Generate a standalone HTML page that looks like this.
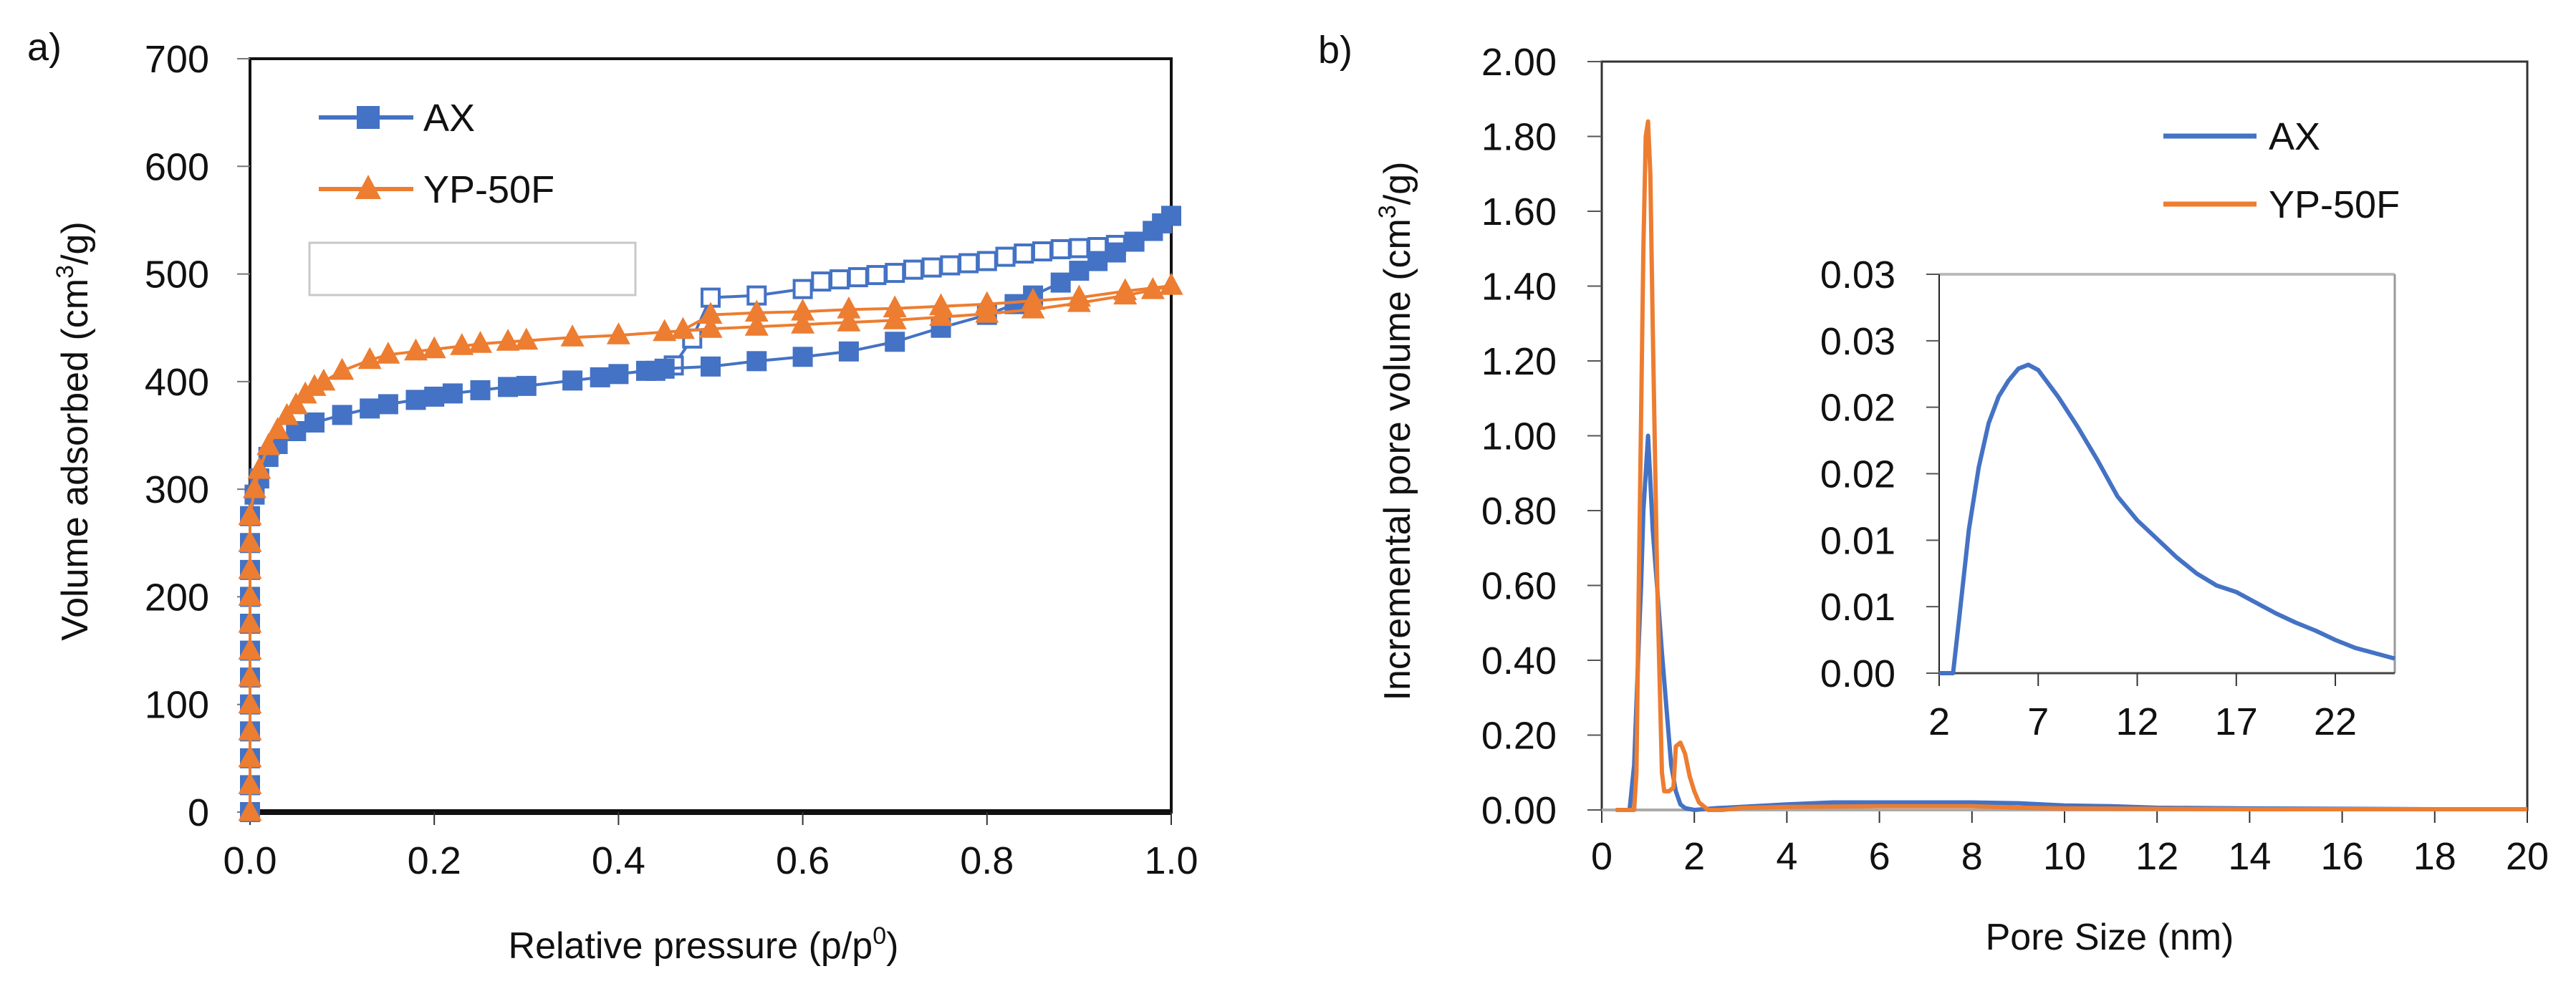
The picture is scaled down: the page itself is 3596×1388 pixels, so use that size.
<!DOCTYPE html>
<html><head><meta charset="utf-8"><style>
html,body{margin:0;padding:0;background:#fff;}
svg{display:block;font-family:"Liberation Sans",Arial,sans-serif;}
</style></head><body>
<svg id="fig" width="3596" height="1388" viewBox="0 0 3596 1388" xmlns="http://www.w3.org/2000/svg">
<rect x="0" y="0" width="3596" height="1388" fill="#fff"/>
<g id="chartA"></g>
<g id="chartB"></g>
<g id="chartC"></g>
</svg>
<script>
// ---------- Chart a data ----------
const aTicksX = [0, 0.2, 0.4, 0.6, 0.8, 1.0];
const aTickLabelsX = ["0.0", "0.2", "0.4", "0.6", "0.8", "1.0"];
const aTicksY = [0, 100, 200, 300, 400, 500, 600, 700];
const axAdsP = [0,0,0,0,0,0,0,0,0,0,0,0,0.005,0.01,0.02,0.03,0.05,0.07,0.1,0.13,0.15,0.18,0.2,0.22,0.25,0.28,0.3,0.35,0.38,0.4,0.43,0.45,0.5,0.55,0.6,0.65,0.7,0.75,0.8,0.83,0.85,0.88,0.9,0.92,0.94,0.96,0.98,0.99,1.0];
const axAdsV = [0,25,50,75,100,125,150,175,200,225,250,275,295,310,330,342,354,362,369,375,379,383,386,389,392,395,396,401,404,407,410,412,414,419,423,428,437,450,462,472,480,492,503,512,520,530,540,547,554];
const axDesP = [1.0,0.98,0.96,0.94,0.92,0.9,0.88,0.86,0.84,0.82,0.8,0.78,0.76,0.74,0.72,0.7,0.68,0.66,0.64,0.62,0.6,0.55,0.5,0.48,0.46,0.44];
const axDesV = [554,540,530,527,525,524,523,521,519,516,512,510,508,506,504,501,499,497,495,493,486,480,478,440,415,410];
const ypAdsP = [0,0,0,0,0,0,0,0,0,0,0,0,0.005,0.01,0.02,0.03,0.04,0.05,0.06,0.07,0.08,0.1,0.13,0.15,0.18,0.2,0.23,0.25,0.28,0.3,0.35,0.4,0.45,0.5,0.55,0.6,0.65,0.7,0.75,0.8,0.85,0.9,0.95,0.98,1.0];
const ypAdsV = [0,25,50,75,100,125,150,175,200,225,250,275,300,318,340,355,368,378,388,395,400,410,420,425,428,430,433,435,437,438,441,443,446,449,451,453,455,457,460,463,467,473,480,485,489];
const ypDesP = [1.0,0.95,0.9,0.85,0.8,0.75,0.7,0.65,0.6,0.55,0.5,0.47];
const ypDesV = [489,484,478,475,472,470,468,467,465,464,462,448];

// ---------- Chart b data ----------
const bTicksX = [0,2,4,6,8,10,12,14,16,18,20];
const bTicksY = [0,0.2,0.4,0.6,0.8,1.0,1.2,1.4,1.6,1.8,2.0];
const bTickLabelsY = ["0.00","0.20","0.40","0.60","0.80","1.00","1.20","1.40","1.60","1.80","2.00"];
const axPsdX = [0.4,0.6,0.7,0.8,0.85,0.9,0.95,1.0,1.05,1.1,1.2,1.3,1.4,1.5,1.6,1.7,1.8,2.0,2.5,3,4,5,6,7,8,9,10,11,12,14,16,18,20];
const axPsdY = [0,0,0.12,0.45,0.6,0.8,0.9,1.0,0.88,0.75,0.59,0.42,0.27,0.12,0.05,0.015,0.005,0,0.005,0.008,0.015,0.02,0.02,0.02,0.02,0.018,0.012,0.01,0.006,0.004,0.003,0.002,0.002];
const ypPsdX = [0.3,0.6,0.7,0.75,0.8,0.9,0.95,1.0,1.05,1.1,1.2,1.3,1.35,1.45,1.55,1.6,1.7,1.8,1.9,2.0,2.1,2.3,2.6,3,4,6,8,9,10,12,14,16,18,20];
const ypPsdY = [0,0,0,0.1,0.6,1.5,1.8,1.84,1.7,1.3,0.6,0.1,0.05,0.05,0.06,0.17,0.18,0.15,0.09,0.05,0.02,0,0,0.005,0.008,0.01,0.01,0.006,0.004,0.003,0.002,0.002,0.002,0.002];

// ---------- Inset data ----------
const cTicksX = [2,7,12,17,22];
const cTicksY = [0,0.005,0.01,0.015,0.02,0.025,0.03];
const cTickLabelsY = ["0.00","0.01","0.01","0.02","0.02","0.03","0.03"];
const insX = [2,2.5,2.7,3,3.5,4,4.5,5,5.5,6,6.5,7,8,9,10,11,12,13,14,15,16,17,18,19,20,21,22,23,24,25];
const insY = [0,0,0,0.004,0.0108,0.0155,0.0188,0.0208,0.022,0.0229,0.0232,0.0228,0.0208,0.0185,0.016,0.0133,0.0115,0.0101,0.0087,0.0075,0.0066,0.0061,0.0053,0.0045,0.0038,0.0032,0.0025,0.0019,0.0015,0.0011];

const NS = "http://www.w3.org/2000/svg";
const BLUE = "#4472C4", ORANGE = "#ED7D31";
function mk(parent, tag, attrs, text) {
  const e = document.createElementNS(NS, tag);
  for (const k in attrs) e.setAttribute(k, attrs[k]);
  if (text !== undefined) e.textContent = text;
  parent.appendChild(e);
  return e;
}
function linear(d0, d1, r0, r1) { return v => r0 + (v - d0) / (d1 - d0) * (r1 - r0); }
function pathD(xs, ys, sx, sy) { return xs.map((x, i) => (i ? "L" : "M") + sx(x).toFixed(1) + "," + sy(ys[i]).toFixed(1)).join(" "); }

// ================= Chart a =================
(function () {
  const g = document.getElementById("chartA");
  const L = 349, R = 1635, T = 82, B = 1134;
  const sx = linear(0, 1, L, R), sy = linear(0, 700, B, T);
  let t = mk(g, "text", {x: 38, y: 84, "font-size": 54, fill: "#111"}, "a)");
  
  
  let fr = mk(g, "rect", {x: L, y: T, width: R - L, height: B - T, fill: "none", stroke: "#111", "stroke-width": 4});
  
  
  mk(g, "line", {x1: L, y1: B, x2: R, y2: B, stroke: "#111", "stroke-width": 8});
  aTicksY.forEach(v => {
    const y = sy(v);
    mk(g, "line", {x1: L - 18, y1: y, x2: L, y2: y, stroke: "#777", "stroke-width": 2});
    const lb = mk(g, "text", {x: 292, y: y + 19, "font-size": 54, "text-anchor": "end", fill: "#111"}, String(v));
    
    
  });
  aTicksX.forEach((v, i) => {
    const x = sx(v);
    mk(g, "line", {x1: x, y1: B, x2: x, y2: B + 18, stroke: "#333", "stroke-width": 2});
    const lb = mk(g, "text", {x: x, y: 1220, "font-size": 54, "text-anchor": "middle", fill: "#111"}, aTickLabelsX[i]);
    
    
  });
  const xt = mk(g, "text", {x: 982, y: 1338, "font-size": 52, "text-anchor": "middle", fill: "#111"});
  
  
  xt.appendChild(document.createTextNode("Relative pressure (p/p"));
  mk(xt, "tspan", {"font-size": 34, dy: -20}, "0");
  mk(xt, "tspan", {dy: 20}, ")");
  const yt = mk(g, "text", {transform: "translate(122,602) rotate(-90)", "font-size": 52, "text-anchor": "middle", fill: "#111"});
  
  
  yt.appendChild(document.createTextNode("Volume adsorbed (cm"));
  mk(yt, "tspan", {"font-size": 34, dy: -20}, "3");
  mk(yt, "tspan", {dy: 20}, "/g)");
  // empty legend box
  const eb = mk(g, "rect", {x: 432, y: 339, width: 455, height: 73, fill: "#fff", stroke: "#c8c8c8", "stroke-width": 3});
  
  
  function series(xs, ys, color, shape, filled, name) {
    const sg = mk(g, "g", {});
    
    
    mk(sg, "path", {d: pathD(xs, ys, sx, sy), fill: "none", stroke: color, "stroke-width": 4});
    xs.forEach((x, i) => {
      const cx = sx(x), cy = sy(ys[i]);
      let m;
      if (shape === "sq") m = mk(sg, "rect", {x: cx - 12, y: cy - 12, width: 24, height: 24, fill: filled ? color : "#fff", stroke: color, "stroke-width": 4});
      else m = mk(sg, "polygon", {points: `${cx},${cy - 15} ${cx + 14},${cy + 11} ${cx - 14},${cy + 11}`, fill: filled ? color : "#fff", stroke: color, "stroke-width": 3});
      
      
    });
  }
  series(axDesP, axDesV, BLUE, "sq", false, "ax-desorption-series");
  series(axAdsP, axAdsV, BLUE, "sq", true, "ax-adsorption-series");
  series(ypDesP, ypDesV, ORANGE, "tri", true, "yp50f-desorption-series");
  series(ypAdsP, ypAdsV, ORANGE, "tri", true, "yp50f-adsorption-series");
  // legend
  const lg = mk(g, "g", {});
  
  
  mk(lg, "line", {x1: 445, y1: 164, x2: 577, y2: 164, stroke: BLUE, "stroke-width": 6});
  mk(lg, "rect", {x: 498, y: 148, width: 32, height: 32, fill: BLUE});
  mk(lg, "text", {x: 591, y: 183, "font-size": 54, fill: "#111"}, "AX");
  mk(lg, "line", {x1: 445, y1: 264, x2: 577, y2: 264, stroke: ORANGE, "stroke-width": 6});
  mk(lg, "polygon", {points: "514,244 532,278 496,278", fill: ORANGE});
  mk(lg, "text", {x: 591, y: 283, "font-size": 54, fill: "#111"}, "YP-50F");
})();

// ================= Chart b =================
(function () {
  const g = document.getElementById("chartB");
  const L = 2236, R = 3528, T = 86, B = 1131;
  const sx = linear(0, 20, L, R), sy = linear(0, 2, B, T);
  let t = mk(g, "text", {x: 1840, y: 88, "font-size": 54, fill: "#111"}, "b)");
  
  
  const fr = mk(g, "rect", {x: L, y: T, width: R - L, height: B - T, fill: "none", stroke: "#333", "stroke-width": 3});
  
  
  bTicksY.forEach((v, i) => {
    const y = sy(v);
    mk(g, "line", {x1: L - 20, y1: y, x2: L, y2: y, stroke: "#555", "stroke-width": 2});
    const lb = mk(g, "text", {x: 2173, y: y + 19, "font-size": 54, "text-anchor": "end", fill: "#111"}, bTickLabelsY[i]);
    
    
  });
  bTicksX.forEach(v => {
    const x = sx(v);
    mk(g, "line", {x1: x, y1: B, x2: x, y2: B + 18, stroke: "#333", "stroke-width": 2});
    const lb = mk(g, "text", {x: x, y: 1214, "font-size": 54, "text-anchor": "middle", fill: "#111"}, String(v));
    
    
  });
  mk(g, "line", {x1: L, y1: B, x2: R, y2: B, stroke: "#aaa", "stroke-width": 4});
  const xt = mk(g, "text", {x: 2945, y: 1326, "font-size": 52, "text-anchor": "middle", fill: "#111"}, "Pore Size (nm)");
  
  
  const yt = mk(g, "text", {transform: "translate(1968,602) rotate(-90)", "font-size": 52, "text-anchor": "middle", fill: "#111"});
  
  
  yt.appendChild(document.createTextNode("Incremental pore volume (cm"));
  mk(yt, "tspan", {"font-size": 34, dy: -20}, "3");
  mk(yt, "tspan", {dy: 20}, "/g)");
  const pa = mk(g, "path", {d: pathD(axPsdX, axPsdY, sx, sy), fill: "none", stroke: BLUE, "stroke-width": 6, "stroke-linejoin": "round"});
  
  
  const pb = mk(g, "path", {d: pathD(ypPsdX, ypPsdY, sx, sy), fill: "none", stroke: ORANGE, "stroke-width": 6, "stroke-linejoin": "round"});
  
  
  const lg = mk(g, "g", {});
  
  
  mk(lg, "line", {x1: 3020, y1: 190, x2: 3150, y2: 190, stroke: BLUE, "stroke-width": 7});
  mk(lg, "text", {x: 3167, y: 209, "font-size": 54, fill: "#111"}, "AX");
  mk(lg, "line", {x1: 3020, y1: 285, x2: 3150, y2: 285, stroke: ORANGE, "stroke-width": 7});
  mk(lg, "text", {x: 3167, y: 304, "font-size": 54, fill: "#111"}, "YP-50F");
})();

// ================= Inset =================
(function () {
  const g = document.getElementById("chartC");
  const L = 2707, R = 3343, T = 383, B = 940;
  const sx = linear(2, 25, L, R), sy = linear(0, 0.03, B, T);
  mk(g, "rect", {x: L, y: T, width: R - L, height: B - T, fill: "#fff", stroke: "none"});
  mk(g, "line", {x1: L, y1: T, x2: R, y2: T, stroke: "#bbb", "stroke-width": 4});
  mk(g, "line", {x1: R, y1: T, x2: R, y2: B, stroke: "#999", "stroke-width": 3});
  mk(g, "line", {x1: L, y1: T, x2: L, y2: B, stroke: "#222", "stroke-width": 2});
  mk(g, "line", {x1: L, y1: B, x2: R, y2: B, stroke: "#444", "stroke-width": 3});
  cTicksY.forEach((v, i) => {
    const y = sy(v);
    mk(g, "line", {x1: L - 18, y1: y, x2: L, y2: y, stroke: "#555", "stroke-width": 2});
    const lb = mk(g, "text", {x: 2646, y: y + 19, "font-size": 54, "text-anchor": "end", fill: "#111"}, cTickLabelsY[i]);
    
    
  });
  cTicksX.forEach(v => {
    const x = sx(v);
    mk(g, "line", {x1: x, y1: B, x2: x, y2: B + 18, stroke: "#333", "stroke-width": 2});
    const lb = mk(g, "text", {x: x, y: 1026, "font-size": 54, "text-anchor": "middle", fill: "#111"}, String(v));
    
    
  });
  const p = mk(g, "path", {d: pathD(insX, insY, sx, sy), fill: "none", stroke: BLUE, "stroke-width": 6, "stroke-linejoin": "round"});
  
  
})();
</script>
</body></html>
